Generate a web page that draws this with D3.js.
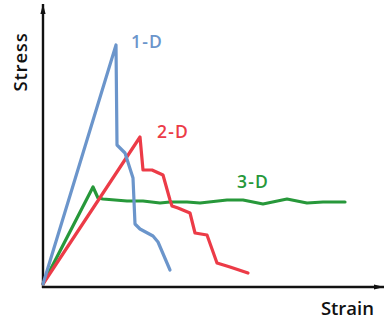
<!DOCTYPE html>
<html>
<head>
<meta charset="utf-8">
<script src="https://cdn.jsdelivr.net/npm/d3@7"></script>
<style>
  html, body { margin: 0; padding: 0; background: #fff; }
  svg { display: block; }
  text { font-family: "Open Sans", "DejaVu Sans", sans-serif; font-weight: 600; }
</style>
</head>
<body>
<svg id="chart" width="386" height="322"></svg>
<script>
// Stress-strain response of 1-D, 2-D and 3-D reinforced composites (arbitrary units)
const strain1D = [0, 73, 74, 82, 90, 92, 97, 110, 115, 121, 127];
const stress1D = [0, 239, 139, 131, 106, 60, 55, 48, 42, 28, 14];

const strain2D = [0, 97, 100, 109, 120, 127, 129, 135, 147, 152, 164, 174, 187, 205];
const stress2D = [0, 147, 114, 114, 109, 84, 78, 76, 71, 51, 49, 21, 17, 11];

const strain3D = [0, 50, 55, 60, 84, 100, 117, 127, 144, 157, 184, 200, 220, 244, 264, 280, 302];
const stress3D = [0, 97, 86, 85, 83, 83, 81, 82, 82, 81, 84, 84, 80, 85, 81, 82, 82];

const seriesNames = ["1-D", "2-D", "3-D"];
const seriesColors = ["#6b95cb", "#ec3b47", "#27983a"];
const axisTitles = ["Strain", "Stress"];

const series = [
  { name: seriesNames[0], color: seriesColors[0], pts: strain1D.map((x, i) => [x, stress1D[i]]), label: [88, 236] },
  { name: seriesNames[1], color: seriesColors[1], pts: strain2D.map((x, i) => [x, stress2D[i]]), label: [114, 146] },
  { name: seriesNames[2], color: seriesColors[2], pts: strain3D.map((x, i) => [x, stress3D[i]]), label: [194, 96] }
];

const svg = d3.select("#chart");
const x0 = 43, y0 = 287;
const x = d3.scaleLinear().domain([0, 340]).range([x0, 383]);
const y = d3.scaleLinear().domain([0, 282]).range([y0 - 3, 2]);

// arrowheads for the axes
const defs = svg.append("defs");
defs.append("marker")
  .attr("id", "arrow")
  .attr("viewBox", "0 0 10 6")
  .attr("refX", 10).attr("refY", 3)
  .attr("markerWidth", 10).attr("markerHeight", 6)
  .attr("markerUnits", "userSpaceOnUse")
  .attr("orient", "auto")
  .append("path")
  .attr("d", "M0,0.4 L10,3 L0,5.6 Z")
  .attr("fill", "#111");

// axes drawn without ticks
const xAxis = d3.axisBottom(d3.scaleLinear().range([x0 - 1, 384])).tickValues([]).tickSizeOuter(0);
const yAxis = d3.axisLeft(d3.scaleLinear().range([y0 + 1, 4])).tickValues([]).tickSizeOuter(0);

const gx = svg.append("g").attr("transform", `translate(0,${y0})`).call(xAxis);
const gy = svg.append("g").attr("transform", `translate(${x0},0)`).call(yAxis);
[gx, gy].forEach(g => g.select(".domain")
  .attr("stroke", "#111")
  .attr("stroke-width", 2.4)
  .attr("marker-end", "url(#arrow)"));
// y-axis path runs bottom -> top so the marker sits at the top
gy.select(".domain").attr("d", `M0,${y0 + 1}V4`);
gx.select(".domain").attr("d", `M${x0 - 1},0H384`);

const line = d3.line().x(d => x(d[0])).y(d => y(d[1]));

// draw 3-D first, then 2-D, then 1-D on top
[series[2], series[1], series[0]].forEach(s => {
  svg.append("path")
    .datum(s.pts)
    .attr("d", line)
    .attr("fill", "none")
    .attr("stroke", s.color)
    .attr("stroke-width", 3.2)
    .attr("stroke-linejoin", "round")
    .attr("stroke-linecap", "round");
});

series.forEach(s => {
  svg.append("text")
    .attr("x", x(s.label[0]))
    .attr("y", y(s.label[1]))
    .attr("fill", s.color)
    .attr("font-size", 17.5)
    .attr("letter-spacing", 1.2)
    .text(s.name);
});

// axis titles
svg.append("text")
  .attr("x", 374).attr("y", 315)
  .attr("text-anchor", "end")
  .attr("font-size", 18.5)
  .attr("fill", "#111")
  .text(axisTitles[0]);

svg.append("text")
  .attr("transform", "translate(27,62) rotate(-90)")
  .attr("text-anchor", "middle")
  .attr("font-size", 18.5)
  .attr("letter-spacing", 0.8)
  .attr("fill", "#111")
  .text(axisTitles[1]);
</script>
</body>
</html>
